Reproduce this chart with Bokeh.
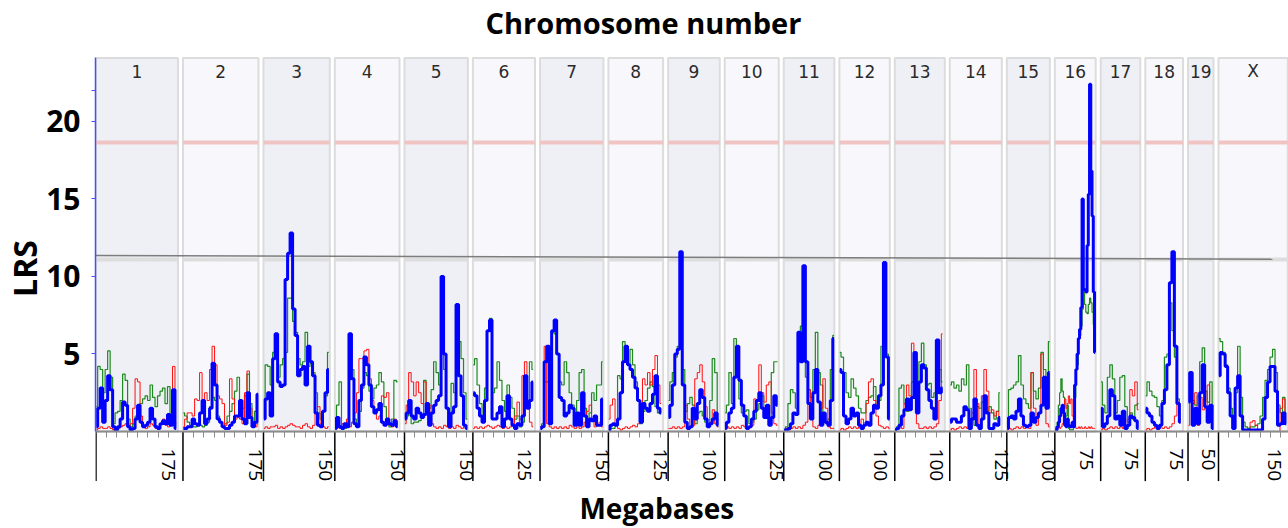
import math
from bokeh.plotting import figure
from bokeh.models import Range1d, FixedTicker, LinearAxis
from bokeh.core.properties import value
from bokeh.embed import file_html
from bokeh.resources import INLINE

# ---------------- data ----------------
CHROMS = ["1", "2", "3", "4", "5", "6", "7", "8", "9", "10",
          "11", "12", "13", "14", "15", "16", "17", "18", "19", "X"]
CHR_LEN = [197.2, 181.7, 159.6, 155.6, 152.5, 149.5, 152.5, 131.7, 124.1, 130.0,
           121.8, 121.3, 120.3, 125.2, 103.5, 98.3, 95.3, 90.8, 61.3, 166.7]
LABEL_MB = [175, 175, 150, 150, 150, 125, 150, 125, 100, 125,
            100, 100, 100, 125, 100, 75, 75, 75, 50, 150]
MARKER_STEP = {"16": 3.0}          # Mb between markers (default 6)
Y_TICKS = [5, 10, 15, 20]
SIGNIFICANT = 18.65
SUGGESTIVE = 11.1
SUGGESTIVE_TREND = (11.35, 11.12)

BLUE = {
    "1": [0.3,1.5,2.8,0.6,2.0,3.6,2.7,0.3,0.1,0.3,0.8,1.9,1.7,0.3,0.1,0.2,0.8,1.7,0.6,0.3,0.4,0.6,1.5,0.8,0.3,0.2,0.5,0.7,0.5,1.1,0.4,2.7,0.2],
    "2": [0.2,0.2,0.3,0.3,0.8,0.5,0.4,1.2,2.0,0.5,0.8,1.5,4.4,3.0,0.8,0.6,0.3,0.2,0.2,0.4,0.6,1.0,1.0,2.0,0.8,0.5,2.5,0.9,0.3,0.6,2.4],
    "3": [0.8,2.1,2.5,1.0,4.7,6.3,3.2,2.9,3.0,9.8,11.5,12.8,7.9,6.2,3.6,4.0,4.2,3.0,5.5,4.5,3.6,1.2,0.4,0.3,1.3,2.5,4.0],
    "4": [0.2,0.9,0.3,0.2,0.5,0.3,6.3,3.4,0.5,0.3,2.0,3.0,4.8,4.3,3.0,1.6,1.2,1.4,1.8,0.6,0.4,0.8,0.5,0.4,0.7,0.3],
    "5": [0.8,1.2,2.0,1.0,0.8,1.5,1.2,0.9,1.1,1.8,0.4,1.2,1.7,2.0,2.3,10.0,5.0,1.5,0.3,1.2,1.6,8.2,3.6,2.3,0.4,0.2],
    "6": [2.5,2.3,1.5,1.0,0.6,2.0,6.5,7.2,0.8,0.8,1.2,1.6,0.3,0.8,2.3,0.8,0.4,0.2,0.5,0.4,1.0,3.6,1.5,2.0,3.2],
    "7": [0.2,0.3,4.5,5.5,0.5,6.5,7.2,5.0,2.2,2.0,1.0,1.2,1.7,1.5,0.4,1.2,0.4,2.5,1.0,0.3,0.8,0.7,1.0,0.4,0.4,2.1],
    "8": [0.1,0.4,0.5,0.4,0.8,2.5,4.5,5.5,4.3,4.0,3.5,2.8,2.0,0.6,1.8,1.5,1.3,1.8,2.4,3.6,1.5,1.2],
    "9": [0.9,1.7,3.0,5.0,5.3,11.6,3.0,0.6,0.2,0.3,1.5,0.8,1.8,2.7,2.2,0.8,0.3,0.5,0.8,1.2,0.4],
    "10": [0.2,0.6,1.2,1.5,3.5,5.5,3.3,1.7,1.0,0.2,0.3,0.8,1.3,2.0,2.5,1.5,0.9,1.7,0.4,0.9,2.3,1.7],
    "11": [0.1,0.1,0.2,0.5,1.2,1.1,6.4,4.5,10.7,4.5,1.8,0.8,2.5,4.0,1.9,0.4,1.2,0.6,0.4,2.0,6.0],
    "12": [4.0,3.8,1.0,0.5,0.8,1.5,1.0,1.2,0.4,0.2,0.4,0.6,0.4,1.2,1.7,1.5,2.3,3.0,10.9,4.8,0.8],
    "13": [0.1,0.2,0.4,1.0,1.4,2.1,1.4,2.2,5.1,1.2,3.2,4.3,4.1,2.7,2.0,1.5,0.8,5.9,2.5,2.8],
    "14": [0.6,0.8,0.8,0.6,0.6,1.0,1.6,1.4,0.2,0.8,2.1,0.4,0.2,0.8,2.3,1.2,0.2,0.2,0.5,0.4,0.9],
    "15": [0.2,0.9,1.0,0.8,1.3,2.1,1.0,0.4,0.3,0.4,1.2,0.6,0.9,1.2,1.7,3.5,1.5,3.8],
    "16": [0.1,0.1,0.3,0.6,1.0,1.5,1.7,1.2,0.4,0.3,0.8,0.4,0.3,0.3,0.6,0.3,3.0,4.0,5.0,6.0,6.6,8.0,15.0,9.2,9.1,9.0,12.0,15.3,22.4,16.8,13.9,9.0,5.1],
    "17": [1.5,0.3,0.5,1.0,2.7,2.3,0.8,1.0,0.4,1.3,0.2,0.4,1.0,0.9,0.7,0.2],
    "18": [1.5,1.2,1.0,0.6,0.4,0.2,0.4,1.8,2.7,4.3,9.6,11.6,5.5,1.8,0.6],
    "19": [1.9,3.8,0.4,1.5,0.5,2.5,4.3,1.6,0.6,1.7,0.2],
    "X": [3.6,5.1,5.0,4.2,2.5,1.0,0.2,2.8,3.6,1.0,0.1,0.1,0.1,0.1,0.1,0.1,0.1,0.1,0.8,2.2,3.2,4.2,4.2,2.6,0.4,0.5,1.2,0.5],
}
GREEN = {
    "1": [1.6,4.2,4.0,2.5,4.0,5.2,3.5,0.5,1.2,1.3,2.0,3.7,3.3,0.8,0.3,0.5,1.0,1.3,1.8,2.1,2.3,2.0,3.0,2.2,1.6,2.3,2.6,2.8,1.8,2.9,0.5,2.0,0.5],
    "2": [1.2,1.0,0.6,0.4,0.3,0.3,0.4,0.4,0.3,0.4,0.6,1.6,2.2,2.0,1.0,0.6,0.3,0.5,1.0,1.3,1.8,2.6,3.5,1.9,1.5,2.3,3.7,1.8,0.6,1.3,2.0],
    "3": [1.5,4.3,4.2,3.0,5.1,5.8,3.5,4.3,4.7,5.1,8.6,8.6,7.1,6.4,4.7,4.3,4.5,6.4,4.2,4.4,3.8,2.5,1.2,0.8,1.3,2.3,5.1],
    "4": [0.8,1.7,3.2,0.3,0.2,0.6,6.0,4.0,0.8,0.4,1.3,2.8,3.8,3.6,2.6,2.1,2.8,3.0,3.8,3.2,1.6,0.6,0.3,0.8,3.3,3.2],
    "5": [0.8,1.0,1.2,0.5,0.6,0.6,0.7,1.0,3.3,1.5,1.5,2.7,4.5,3.8,3.0,5.8,4.0,1.5,0.3,3.1,2.5,4.3,5.8,4.7,2.5,0.8],
    "6": [4.3,4.7,3.0,1.8,0.8,2.8,6.5,7.3,2.5,2.8,4.5,3.3,2.0,1.3,3.0,2.2,1.5,0.8,1.0,0.3,0.6,1.6,1.8,4.5,4.0],
    "7": [0.3,0.5,3.2,3.2,5.5,6.4,6.3,5.0,3.2,3.0,4.5,3.8,2.5,1.7,0.5,2.0,3.8,4.0,1.5,0.6,1.2,2.5,2.0,3.0,3.0,4.5],
    "8": [0.1,0.2,0.2,0.4,3.6,3.4,5.8,5.5,4.3,5.3,4.3,3.2,2.0,0.5,1.3,2.0,2.8,3.2,2.9,1.6,1.2,1.3],
    "9": [2.0,3.2,3.8,4.8,5.5,8.1,4.0,1.3,1.8,2.2,1.7,0.5,1.2,1.3,1.0,0.6,0.4,2.0,4.7,3.8,0.8],
    "10": [1.2,1.7,3.8,1.8,6.0,5.5,2.1,1.2,1.3,1.4,0.5,0.6,0.8,1.4,1.8,2.3,1.3,1.3,0.4,3.8,4.5,4.5],
    "11": [0.1,0.3,1.8,2.7,2.5,1.5,6.4,6.8,7.9,3.5,2.7,2.2,4.0,6.4,3.8,3.0,1.0,0.5,0.8,4.0,6.2],
    "12": [5.1,4.8,3.8,2.5,2.2,3.4,2.8,2.3,1.5,1.2,1.2,2.0,2.2,2.3,2.9,1.5,2.0,5.5,8.3,5.0,2.8],
    "13": [0.1,0.3,2.8,3.0,1.8,1.3,2.0,3.2,2.5,1.8,4.5,5.7,4.3,3.0,3.1,2.2,2.5,5.8,4.0,3.2],
    "14": [3.0,3.2,2.8,3.0,2.6,3.4,3.0,4.3,1.5,0.9,0.4,1.6,1.5,1.9,1.4,1.3,1.6,1.2,0.8,1.3,2.5],
    "15": [0.3,2.7,2.8,3.0,3.2,4.9,3.0,2.1,1.8,1.5,3.8,2.6,2.1,2.8,5.1,4.0,2.8,5.8],
    "16": [0.1,0.3,0.6,1.7,2.5,3.4,2.6,2.2,0.4,1.0,1.7,0.2,0.1,0.1,0.1,0.3,2.2,4.0,4.3,6.0,6.2,6.8,7.9,9.0,8.2,7.7,7.6,8.2,8.6,8.3,7.7,6.9,6.4],
    "17": [3.2,1.7,1.2,3.5,4.3,3.4,1.2,2.0,3.5,3.6,1.6,0.6,1.2,0.8,1.7,1.8],
    "18": [2.3,3.2,2.6,2.3,2.2,1.6,1.0,2.0,4.8,5.0,8.3,6.5,4.8,2.1,0.8],
    "19": [3.0,3.8,2.0,1.7,2.3,4.5,5.4,2.6,1.9,3.2,1.6],
    "X": [6.0,5.8,5.1,4.3,2.8,1.5,0.4,2.5,5.5,2.2,0.6,0.3,0.2,0.3,0.3,0.4,0.5,1.0,2.2,3.3,4.0,4.8,5.3,3.8,1.7,1.2,2.2,1.2],
}
RED = {
    "1": [0.1,0.2,0.3,0.2,0.2,0.3,0.2,0.1,0.1,0.2,0.3,0.4,0.5,0.3,0.5,1.5,3.4,3.2,1.0,0.3,0.2,0.3,0.5,0.4,0.2,0.3,0.5,0.8,0.4,0.3,0.6,4.2,0.6],
    "2": [0.3,0.8,1.2,1.2,1.0,2.1,2.0,3.8,1.6,2.5,2.0,4.0,5.5,4.3,2.3,2.1,1.8,0.4,0.6,3.4,2.1,0.8,0.9,0.8,0.5,2.5,3.9,1.5,0.4,0.3,0.5],
    "3": [0.2,0.3,0.2,0.3,0.3,0.4,0.2,0.3,0.2,0.3,0.4,0.5,0.4,0.3,0.3,0.2,0.4,0.5,0.3,0.2,0.4,1.2,1.6,0.5,0.3,0.2,0.3],
    "4": [0.2,0.3,0.2,0.5,0.3,0.8,0.3,0.6,1.2,2.5,4.7,4.7,5.2,5.3,3.4,2.0,1.2,0.8,1.0,2.3,2.2,2.5,0.4,0.3,0.8,0.5],
    "5": [0.5,1.7,3.8,3.2,2.3,3.2,2.5,1.8,3.2,1.2,1.7,0.5,0.3,0.2,0.3,0.2,0.4,0.3,0.2,0.3,0.2,0.4,0.3,0.2,0.3,0.2],
    "6": [0.2,0.3,0.2,0.3,0.2,0.3,0.4,0.3,0.2,0.3,0.4,0.3,0.2,0.3,0.2,0.3,0.5,1.0,1.9,0.8,3.6,4.5,2.0,0.6,0.3],
    "7": [0.3,0.3,5.5,0.5,0.3,0.2,0.3,0.2,0.3,0.2,0.3,0.2,0.4,0.3,0.2,0.3,0.2,0.3,0.6,1.3,1.7,0.8,0.3,0.4,0.6,0.3],
    "8": [0.8,1.7,2.1,0.4,0.2,0.1,0.2,0.3,0.2,0.3,0.4,0.3,0.5,1.5,3.4,3.0,3.8,3.0,4.0,4.9,3.0,1.8],
    "9": [0.2,0.2,0.3,0.2,0.3,0.2,0.3,1.7,0.8,0.3,0.4,3.4,3.8,4.3,3.2,1.6,0.4,0.6,1.4,0.5,0.3],
    "10": [0.2,0.3,0.2,0.3,0.2,0.3,0.2,0.4,0.3,0.2,0.3,0.4,2.1,2.0,4.3,2.5,1.9,3.0,3.2,1.2,0.5,0.4],
    "11": [0.1,0.2,0.1,0.2,0.3,0.2,0.3,0.2,0.4,0.6,2.7,1.2,0.3,0.2,0.4,1.5,3.4,1.5,0.3,0.2,0.2],
    "12": [0.1,0.2,0.1,0.2,0.3,0.2,0.3,0.2,0.3,0.8,0.4,1.8,3.2,3.4,2.0,1.0,0.4,0.3,0.2,0.3,0.2],
    "13": [0.1,0.2,0.3,0.2,1.8,3.0,2.3,5.7,3.0,0.5,0.2,0.2,0.3,0.2,0.3,0.2,0.3,0.5,2.0,6.3],
    "14": [0.1,0.2,0.1,0.2,0.3,0.2,0.3,0.2,0.4,1.2,4.0,1.8,0.4,2.3,4.0,2.6,1.2,1.4,1.0,1.3,0.4],
    "15": [0.1,0.2,0.1,0.2,0.3,0.2,0.3,0.2,0.3,0.2,3.8,1.5,0.4,1.2,5.0,2.0,0.5,0.3],
    "16": [0.1,0.1,0.2,0.3,0.2,0.3,0.5,1.2,2.1,1.5,1.8,2.3,1.8,2.1,1.0,0.6,0.3,0.2,0.2,0.3,0.2,0.3,0.2,0.2,0.3,0.2,0.2,0.3,0.2,0.3,0.2,0.2,0.2],
    "17": [0.1,0.2,0.1,0.2,0.3,0.2,0.3,0.2,0.3,0.2,0.3,0.8,2.7,2.3,3.2,1.4],
    "18": [0.1,0.2,0.1,0.2,0.3,0.2,0.3,0.2,0.3,0.2,0.3,0.5,1.0,1.9,0.6],
    "19": [0.4,3.2,1.8,2.5,0.4,2.2,1.4,1.5,3.0,1.2,0.2],
    "X": [0,0,0,0,0,0,0,0,0,0,0,0,0.1,0.6,0.7,0.4,0.1,0,0,0,0,0,0,0,0,1.5,2.1,0.8],
}

# ---------------- genome layout (Mb) ----------------
GAP_MB = 12.0
starts, ends = [], []
cursor = 0.0
for L in CHR_LEN:
    starts.append(cursor)
    ends.append(cursor + L)
    cursor += L + GAP_MB
centers = [(a + b) / 2 for a, b in zip(starts, ends)]
minor = []
for s, L in zip(starts, CHR_LEN):
    k = 25
    while k < L:
        minor.append(s + k)
        k += 25

Y_TOP = 24.13          # top of chromosome panels
Y_MAX = 27.29          # top of drawing frame
Y_MIN = -6.258         # bottom of canvas
TICK_DEPTH = -3.2      # length of chromosome separators below the baseline
LABEL_Y = -1.1
n = len(starts)
label_nudge = [0] * (n - 1) + [-6]

p = figure(width=1288, height=528, output_backend="svg", toolbar_location=None,
           x_range=Range1d(-1.2, 2868.6), y_range=Range1d(Y_MIN, Y_MAX),
           x_axis_type=None, y_axis_type=None, title_location=None,
           min_border_left=95, min_border_right=0, min_border_top=8, min_border_bottom=0)
p.outline_line_color = None
p.background_fill_color = "white"
p.border_fill_color = "white"

# chromosome panels
fills = ["#eef0f6" if i % 2 == 0 else "#f8f8fc" for i in range(n)]
p.quad(left=starts, right=ends, bottom=0, top=Y_TOP - 0.04, fill_color=fills,
       line_color="#dcdcdc", line_width=2)
p.segment(x0=starts, x1=ends, y0=[SIGNIFICANT] * n, y1=[SIGNIFICANT] * n,
          line_color="#f1c4c4", line_width=4)
p.segment(x0=starts, x1=ends, y0=[SUGGESTIVE] * n, y1=[SUGGESTIVE] * n,
          line_color="#dddddd", line_width=4)
p.segment(x0=[-1.2], x1=[2830], y0=[SUGGESTIVE_TREND[0]], y1=[SUGGESTIVE_TREND[1]],
          line_color="#7d7d7d", line_width=1.5)

p.text(x=centers, y=[23.23] * n, text=CHROMS, text_font=value("DejaVu Sans"),
       text_font_size=value("17px"), text_align="center", text_baseline="middle",
       text_color="#2a2a2a")

for series, color, width in ((GREEN, "#1f8a1f", 1.2), (RED, "#ff1010", 1.0), (BLUE, "#0000ff", 3.0)):
    for i, c in enumerate(CHROMS):
        st = MARKER_STEP.get(c, 6.0)
        vals = series[c]
        xs = [starts[i] + 1 + st * k for k in range(len(vals))]
        p.step(xs, vals, mode="center", line_color=color, line_width=width)

# chromosome separators below the baseline
p.segment(x0=starts, x1=starts, y0=[0] * n, y1=[TICK_DEPTH] * n,
          line_color="black", line_width=1.5)

# Mb tick labels (last labelled tick of each chromosome)
p.text(x=[s + m for s, m in zip(starts, LABEL_MB)], y=[LABEL_Y] * n,
       text=[str(m) for m in LABEL_MB], angle=-math.pi / 2, x_offset=label_nudge,
       text_align="left", text_baseline="middle",
       text_font=value("Open Sans"), text_font_size=value("19px"), text_color="black")

# titles
p.text(x=[1317], y=[26.4], text=["Chromosome number"], text_align="center",
       text_baseline="middle", text_font=value("Open Sans"), text_font_size=value("29px"),
       text_font_style="bold", text_color="black")
p.text(x=[1349], y=[-4.93], text=["Megabases"], text_align="center",
       text_baseline="middle", text_font=value("Open Sans"), text_font_size=value("28px"),
       text_font_style="bold", text_color="black")

# axes
yax = LinearAxis(ticker=FixedTicker(ticks=Y_TICKS, minor_ticks=[22]), bounds=(0, Y_TOP),
                 axis_line_color="#4d4dff", axis_line_width=1.5,
                 major_tick_line_color="#4d4dff", major_tick_in=0, major_tick_out=4,
                 minor_tick_line_color="#4d4dff", minor_tick_in=0, minor_tick_out=4,
                 major_label_text_font="Open Sans", major_label_text_font_size="30px",
                 major_label_text_font_style="bold", major_label_text_color="black",
                 major_label_standoff=11,
                 axis_label="LRS", axis_label_text_font="Open Sans",
                 axis_label_text_font_size="32px", axis_label_text_font_style="bold",
                 axis_label_text_color="black", axis_label_standoff=-3)
p.add_layout(yax, "left")

# Mb axis: baseline with 25-Mb ticks pointing down
xax = LinearAxis(ticker=FixedTicker(ticks=minor), fixed_location=0,
                 axis_line_color="#8c8c8c", axis_line_width=2,
                 major_tick_line_color="#8c8c8c", major_tick_in=6, major_tick_out=0,
                 major_label_overrides={m: "" for m in minor},
                 major_label_text_font_size="1px", major_label_standoff=0)
p.add_layout(xax, "above")

open("out.html", "w").write(file_html(p, INLINE))
